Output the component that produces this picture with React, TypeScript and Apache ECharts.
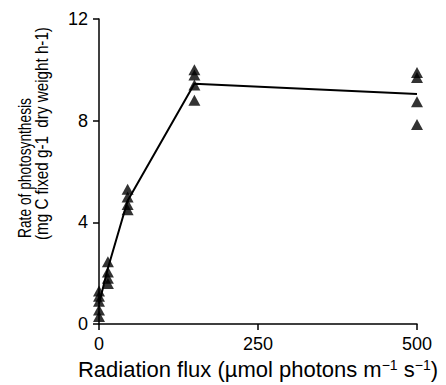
import React, { useEffect, useRef } from "react";
import * as echarts from "echarts";

const fluxLevels = [0, 14, 45, 150, 500];
const replicates: number[][] = [
  [0.3, 0.55, 0.9, 1.1, 1.3],
  [1.6, 1.8, 2.05, 2.45],
  [4.5, 4.7, 5.0, 5.3],
  [8.8, 9.4, 9.8, 10.0],
  [7.85, 8.75, 9.7, 9.9],
];
const meanLine = [0.8, 2.2, 4.85, 9.45, 9.05];
const xTicks = [0, 250, 500];
const yTicks = [0, 4, 8, 12];
const xTitle = "Radiation flux (µmol photons m{sup|−1} s{sup|−1})";
const yTitle1 = "Rate of photosynthesis";
const yTitle2 = "(mg C fixed g-1  dry weight h-1)";

export default function App() {
  const ref = useRef<HTMLDivElement>(null);
  useEffect(() => {
    if (!ref.current) return;
    const chart = echarts.init(ref.current, null, { renderer: "svg" });
    const points: number[][] = [];
    fluxLevels.forEach((x, i) => replicates[i].forEach((v) => points.push([x, v])));
    const font = "'Liberation Sans', Arial, Helvetica, sans-serif";
    chart.setOption({
      animation: false,
      backgroundColor: "#ffffff",
      grid: { left: 99, right: 29, top: 19, bottom: 59, containLabel: false },
      xAxis: {
        type: "value",
        min: xTicks[0],
        max: xTicks[xTicks.length - 1],
        interval: 250,
        name: xTitle,
        nameLocation: "middle",
        nameGap: 33,
        nameTextStyle: {
          fontFamily: font,
          fontSize: 22,
          color: "#000",
          rich: {
            sup: { fontFamily: font, fontSize: 14, verticalAlign: "top", lineHeight: 14, color: "#000" },
          },
        },
        axisLine: { show: true, lineStyle: { color: "#000", width: 1.5 } },
        axisTick: { show: true, length: 6, lineStyle: { color: "#000", width: 1.5 } },
        axisLabel: { fontFamily: font, fontSize: 18, color: "#000", margin: 11 },
        splitLine: { show: false },
      },
      yAxis: {
        type: "value",
        min: yTicks[0],
        max: yTicks[yTicks.length - 1],
        interval: 4,
        axisLine: { show: true, lineStyle: { color: "#000", width: 1.5 } },
        axisTick: { show: true, length: 6, lineStyle: { color: "#000", width: 1.5 } },
        axisLabel: { fontFamily: font, fontSize: 18, color: "#000", margin: 11 },
        splitLine: { show: false },
      },
      graphic: [
        {
          type: "text",
          x: 24,
          y: 238,
          rotation: Math.PI / 2,
          scaleX: 0.765,
          style: { text: yTitle1, font: `18px ${font}`, fill: "#000", align: "left", verticalAlign: "middle" },
        },
        {
          type: "text",
          x: 42,
          y: 240,
          rotation: Math.PI / 2,
          scaleX: 0.845,
          style: { text: yTitle2, font: `18px ${font}`, fill: "#000", align: "left", verticalAlign: "middle" },
        },
      ],
      series: [
        {
          type: "line",
          data: fluxLevels.map((x, i) => [x, meanLine[i]]),
          showSymbol: false,
          symbol: "none",
          lineStyle: { color: "#000", width: 2 },
          z: 2,
        },
        {
          type: "scatter",
          data: points,
          symbol: "triangle",
          symbolSize: [12, 11],
          itemStyle: { color: "#000" },
          z: 3,
        },
      ],
    });
    return () => chart.dispose();
  }, []);
  return (
    <div
      ref={ref}
      style={{ position: "fixed", left: 0, top: 0, width: 446, height: 385, background: "#fff" }}
    />
  );
}
